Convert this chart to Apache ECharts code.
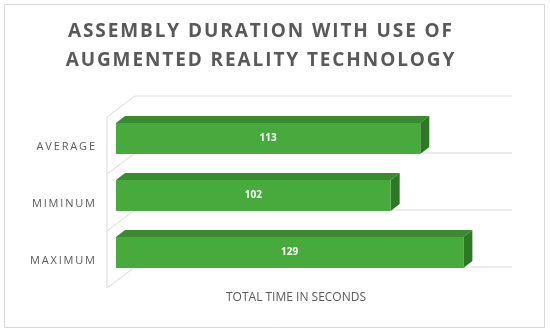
<!DOCTYPE html>
<html>
<head>
<meta charset="utf-8">
<style>html,body{margin:0;padding:0;background:#fff}#c{width:550px;height:332px}</style>
<script src="https://cdn.jsdelivr.net/npm/echarts@6/dist/echarts.min.js"></script>
</head>
<body>
<div id="c"></div>
<script>
const categories = ['AVERAGE', 'MIMINUM', 'MAXIMUM'];
const values = [113, 102, 129];
const titleLines = ['ASSEMBLY DURATION WITH USE OF', 'AUGMENTED REALITY TECHNOLOGY'];
const axisTitle = 'TOTAL TIME IN SECONDS';
const axisMin = 0;
const axisMax = 140;

const FONT = '"Open Sans", "DejaVu Sans", sans-serif';
const GRAY = '#595959';
const LINE = '#d9d9d9';
const FRONT = '#46AB3C';
const TOP = '#3A8A2F';
const SIDE = '#2E7724';
// pseudo-3D offsets
const D = { dx: 9, dy: 7, frontX: -9, frontY: 7, backX: 19, backY: -14 };

function spaced(s, sp) {
  return s.split('').join(sp);
}

const chart = echarts.init(document.getElementById('c'));

function renderWall(params, api) {
  const p0 = api.coord([axisMin, 0]);
  const p1 = api.coord([axisMax, 0]);
  const band = api.size([0, 1])[1];
  const n = categories.length;
  const x0 = p0[0], x1 = p1[0];
  const children = [];
  const bounds = [];
  for (let i = 0; i <= n; i++) {
    bounds.push(p0[1] - band / 2 + i * band);
  }
  const ls = { stroke: LINE, lineWidth: 1, fill: null };
  bounds.forEach(function (yb) {
    children.push({ type: 'line', shape: { x1: x0 + D.backX, y1: yb + D.backY, x2: x1 + D.backX, y2: yb + D.backY }, style: ls });
    children.push({ type: 'line', shape: { x1: x0 + D.frontX, y1: yb + D.frontY, x2: x0 + D.backX, y2: yb + D.backY }, style: ls });
  });
  children.push({ type: 'line', shape: { x1: x0 + D.frontX, y1: bounds[0] + D.frontY, x2: x0 + D.frontX, y2: bounds[n] + D.frontY }, style: ls });
  return { type: 'group', children: children };
}

function renderBar(params, api) {
  const v = api.value(0);
  const c = api.value(1);
  const s = api.coord([axisMin, c]);
  const e = api.coord([v, c]);
  const h = api.size([0, 1])[1] * 0.545;
  const x0 = s[0], x1 = e[0], yc = s[1];
  const top = yc - h / 2, bot = yc + h / 2;
  return {
    type: 'group',
    children: [
      { type: 'polygon', shape: { points: [[x0, top], [x0 + D.dx, top - D.dy], [x1 + D.dx, top - D.dy], [x1, top]] }, style: { fill: TOP } },
      { type: 'polygon', shape: { points: [[x1, top], [x1 + D.dx, top - D.dy], [x1 + D.dx, bot - D.dy], [x1, bot]] }, style: { fill: SIDE } },
      { type: 'rect', shape: { x: x0, y: top, width: x1 - x0, height: h }, style: { fill: FRONT } },
      { type: 'text', style: { text: String(v), x: (x0 + x1) / 2, y: yc, fill: '#ffffff', font: 'bold 10px ' + FONT, align: 'center', verticalAlign: 'middle', textAlign: 'center', textVerticalAlign: 'middle' } }
    ]
  };
}

chart.setOption({
  animation: false,
  backgroundColor: '#ffffff',
  textStyle: { fontFamily: FONT },
  grid: { left: 116, right: 57, top: 110, height: 171 },
  graphic: [
    { type: 'rect', shape: { x: 4.5, y: 4.5, width: 540, height: 323 }, style: { fill: null, stroke: LINE, lineWidth: 1 }, silent: true },
    { type: 'text', x: 260, y: 32, style: { text: spaced(titleLines[0], '\u200A'), fill: GRAY, font: 'bold 19px ' + FONT, align: 'center', verticalAlign: 'middle' } },
    { type: 'text', x: 260, y: 61, style: { text: spaced(titleLines[1], '\u200A'), fill: GRAY, font: 'bold 19px ' + FONT, align: 'center', verticalAlign: 'middle' } }
  ],
  xAxis: {
    type: 'value', min: axisMin, max: axisMax,
    axisLine: { show: false }, axisTick: { show: false }, axisLabel: { show: false }, splitLine: { show: false },
    name: axisTitle, nameLocation: 'middle', nameGap: 11,
    nameTextStyle: { color: GRAY, fontSize: 12, fontFamily: FONT, padding: [0, 17, 0, 0] }
  },
  yAxis: {
    type: 'category', data: categories, inverse: true,
    axisLine: { show: false }, axisTick: { show: false }, splitLine: { show: false },
    axisLabel: { color: GRAY, fontSize: 11, fontFamily: FONT, margin: 21, verticalAlign: 'top', lineHeight: 16, formatter: function (s) { return spaced(s, '\u2009'); } }
  },
  series: [
    { type: 'custom', renderItem: renderWall, data: [[0, 0]], encode: { x: 0, y: 1 }, z: 1, silent: true },
    { type: 'custom', renderItem: renderBar, data: values.map(function (v, i) { return [v, i]; }), encode: { x: 0, y: 1 }, z: 2 }
  ]
});
</script>
</body>
</html>
